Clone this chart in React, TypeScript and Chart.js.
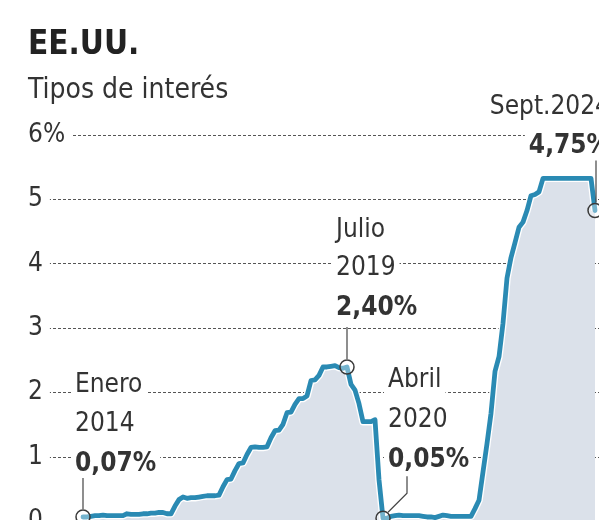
import React, { useEffect, useRef } from 'react';
import { Chart, registerables } from 'chart.js';

Chart.register(...registerables);

// ---------- data ----------
const years = ['2014', '2015', '2016', '2017', '2018', '2019', '2020', '2021', '2022', '2023', '2024'];
const monthNums = ['01', '02', '03', '04', '05', '06', '07', '08', '09', '10', '11', '12'];
const lastMonth = '2024-09';
const months: string[] = [];
years.forEach((y) => monthNums.forEach((m) => { const k = `${y}-${m}`; if (k <= lastMonth) months.push(k); }));

const rates2014 = [0.07, 0.07, 0.08, 0.09, 0.09, 0.10, 0.09, 0.09, 0.09, 0.09, 0.09, 0.12];
const rates2015 = [0.11, 0.11, 0.11, 0.12, 0.12, 0.13, 0.13, 0.14, 0.14, 0.12, 0.12, 0.24];
const rates2016 = [0.34, 0.38, 0.36, 0.37, 0.37, 0.38, 0.39, 0.40, 0.40, 0.40, 0.41, 0.54];
const rates2017 = [0.65, 0.66, 0.79, 0.90, 0.91, 1.04, 1.15, 1.16, 1.15, 1.15, 1.16, 1.30];
const rates2018 = [1.41, 1.42, 1.51, 1.69, 1.70, 1.82, 1.91, 1.91, 1.95, 2.19, 2.20, 2.27];
const rates2019 = [2.40, 2.40, 2.41, 2.42, 2.39, 2.38, 2.40, 2.13, 2.04, 1.83, 1.55, 1.55];
const rates2020 = [1.55, 1.58, 0.65, 0.05, 0.05, 0.08, 0.09, 0.10, 0.09, 0.09, 0.09, 0.09];
const rates2021 = [0.09, 0.08, 0.07, 0.07, 0.06, 0.08, 0.10, 0.09, 0.08, 0.08, 0.08, 0.08];
const rates2022 = [0.08, 0.08, 0.20, 0.33, 0.77, 1.21, 1.68, 2.33, 2.56, 3.08, 3.78, 4.10];
const rates2023 = [4.33, 4.57, 4.65, 4.83, 5.06, 5.08, 5.12, 5.33, 5.33, 5.33, 5.33, 5.33];
const rates2024 = [5.33, 5.33, 5.33, 5.33, 5.33, 5.33, 5.33, 5.33, 4.83];
const rates = [
  ...rates2014, ...rates2015, ...rates2016, ...rates2017, ...rates2018, ...rates2019,
  ...rates2020, ...rates2021, ...rates2022, ...rates2023, ...rates2024,
];

const yTicks = [0, 1, 2, 3, 4, 5, 6];
const yTickLabels = ['0', '1', '2', '3', '4', '5', '6%'];

const calloutMonths = ['2014-01', '2019-07', '2020-04', '2024-09'];
const calloutTitles = [['Enero', '2014'], ['Julio', '2019'], ['Abril', '2020'], ['Sept.2024']];
const calloutValues = ['0,07%', '2,40%', '0,05%', '4,75%'];

const titleText = 'EE.UU.';
const subtitleText = 'Tipos de interés';

// ---------- styling ----------
const FONT = "'DejaVu Sans Condensed', 'Liberation Sans Narrow', 'DejaVu Sans', sans-serif";
const LINE_COLOR = '#2a8ab3';
const FILL_COLOR = '#dbe1ea';
const TEXT_COLOR = '#333333';

// layout of each callout, relative to its point (pixels)
const calloutLayout = [
  { align: 'left', dx: -8, base: [-125, -86, -46], leader: [[0, -39], [0, -8]] },
  { align: 'left', dx: -11, base: [-130, -92, -52], leader: [[0, -40], [0, -8]] },
  { align: 'left', dx: 5, base: [-131, -91, -51], leader: [[24, -42], [24, -25], [5, -6]] },
  { align: 'right', dx: 15, base: [-97, -58], leader: [[1, -50], [1, -8]] },
];

const calloutPlugin = {
  id: 'callouts',
  afterDraw(chart: any) {
    const ctx = chart.ctx as CanvasRenderingContext2D;
    const xs = chart.scales.x;
    const ys = chart.scales.y;
    ctx.save();
    calloutMonths.forEach((m, k) => {
      const i = months.indexOf(m);
      const px = xs.getPixelForValue(i);
      const py = ys.getPixelForValue(rates[i]);
      const L = calloutLayout[k];
      const lines = [...calloutTitles[k], calloutValues[k]];
      lines.forEach((t, j) => {
        const bold = j === lines.length - 1;
        ctx.font = `${bold ? 'bold ' : ''}26px ${FONT}`;
        const w = ctx.measureText(t).width;
        const bx = L.align === 'right' ? px + L.dx - w : px + L.dx;
        const by = py + L.base[j];
        ctx.fillStyle = '#ffffff';
        ctx.fillRect(bx - 4, by - 22, w + 8, 28);
        ctx.fillStyle = TEXT_COLOR;
        ctx.textAlign = 'left';
        ctx.textBaseline = 'alphabetic';
        ctx.fillText(t, bx, by);
      });
      ctx.strokeStyle = '#444';
      ctx.lineWidth = 1.2;
      ctx.beginPath();
      L.leader.forEach(([dx, dy], n) => {
        if (n === 0) ctx.moveTo(px + dx, py + dy);
        else ctx.lineTo(px + dx, py + dy);
      });
      ctx.stroke();
    });
    ctx.restore();
  },
};

export default function App() {
  const ref = useRef<HTMLCanvasElement | null>(null);

  useEffect(() => {
    if (!ref.current) return;
    const points = rates.map((v, i) => ({ x: i, y: v }));
    const calloutIdx = calloutMonths.map((m) => months.indexOf(m));
    const chart = new Chart(ref.current, {
      type: 'line',
      data: {
        datasets: [
          {
            data: points,
            borderColor: LINE_COLOR,
            borderWidth: 4.8,
            borderJoinStyle: 'round',
            borderCapStyle: 'round',
            fill: false,
            tension: 0,
            clip: false as any,
            order: 1,
            pointRadius: (c: any) => (calloutIdx.includes(c.dataIndex) ? 7 : 0),
            pointHoverRadius: 0,
            pointBorderColor: '#3a3a3a',
            pointBorderWidth: 1.5,
            pointBackgroundColor: 'rgba(255,255,255,0.35)',
          },
          {
            data: points,
            borderColor: '#ffffff',
            borderWidth: 7.5,
            borderJoinStyle: 'round',
            fill: false,
            tension: 0,
            pointRadius: 0,
            order: 2,
          },
          {
            data: points,
            borderWidth: 0,
            borderColor: 'rgba(0,0,0,0)',
            backgroundColor: FILL_COLOR,
            fill: 'origin',
            tension: 0,
            pointRadius: 0,
            order: 3,
          },
        ],
      },
      options: {
        animation: false,
        responsive: false,
        maintainAspectRatio: false,
        events: [],
        layout: { padding: { left: 28, right: 10, top: 0, bottom: 18.5 } },
        plugins: {
          legend: { display: false },
          tooltip: { enabled: false },
          title: {
            display: true,
            text: titleText,
            align: 'start',
            color: '#222',
            font: { family: FONT, size: 33, weight: 'bold', lineHeight: 1.2 },
            padding: { top: 26, bottom: 0 },
          },
          subtitle: {
            display: true,
            text: subtitleText,
            align: 'start',
            color: TEXT_COLOR,
            font: { family: FONT, size: 28, weight: 'normal', lineHeight: 1.2 },
            padding: { top: 8, bottom: 28 },
          },
        },
        scales: {
          x: {
            type: 'linear',
            display: false,
            min: -13.75,
            max: 131.75,
          },
          y: {
            min: 0,
            max: 6,
            z: 1,
            afterBuildTicks: (s: any) => { s.ticks = yTicks.map((v) => ({ value: v })); },
            grid: { color: '#555', lineWidth: 1, drawTicks: false },
            border: { display: false, dash: [3, 2] },
            ticks: {
              mirror: true,
              padding: 0,
              color: TEXT_COLOR,
              font: { family: FONT, size: 26 },
              callback: (v: any) => yTickLabels[yTicks.indexOf(Number(v))],
              showLabelBackdrop: true,
              backdropColor: '#ffffff',
              backdropPadding: { left: 0, right: 7, top: 1, bottom: 1 },
            },
          },
        },
      },
      plugins: [calloutPlugin],
    } as any);
    return () => chart.destroy();
  }, []);

  return (
    <div style={{ position: 'fixed', left: 0, top: 0, width: 599, height: 520, overflow: 'hidden', background: '#fff' }}>
      <canvas ref={ref} width={620} height={540} style={{ width: 620, height: 540, display: 'block' }} />
    </div>
  );
}
